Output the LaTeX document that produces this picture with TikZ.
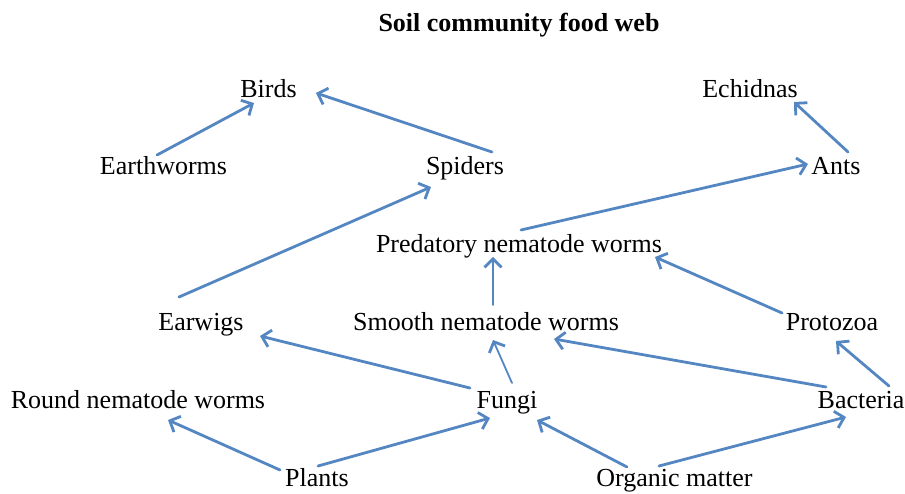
\documentclass[tikz,border=0pt]{standalone}
\usepackage{fontspec}
\setmainfont{Liberation Serif}
\usetikzlibrary{arrows.meta}
\definecolor{arrblue}{RGB}{84,134,194}
\begin{document}
\begin{tikzpicture}[x=0.5pt,y=-0.5pt,
  lbl/.style={anchor=base,inner sep=0pt,font=\fontsize{13}{15}\selectfont},
  ttl/.style={anchor=base,inner sep=0pt,font=\fontsize{13}{15}\selectfont\bfseries},
  arr/.style={draw=arrblue,line width=1.4pt,line cap=round,-{Straight Barb[length=4.2pt,width=8.6pt,line width=1.4pt]}},
  thinarr/.style={arr,line width=0.9pt}]
\useasboundingbox (0,0) rectangle (905,493);
\node[ttl] (title) at (519,31) {Soil community food web};
\node[lbl] (birds) at (268.5,97) {Birds};
\node[lbl] (echidnas) at (750,97) {Echidnas};
\node[lbl] (earthworms) at (163.5,174) {Earthworms};
\node[lbl] (spiders) at (465,174) {Spiders};
\node[lbl] (ants) at (836,174) {Ants};
\node[lbl] (predatory) at (519,252) {Predatory nematode worms};
\node[lbl] (earwigs) at (201,330) {Earwigs};
\node[lbl] (smooth) at (486,330) {Smooth nematode worms};
\node[lbl] (protozoa) at (832,330) {Protozoa};
\node[lbl] (round) at (138,408) {Round nematode worms};
\node[lbl] (fungi) at (507,408) {Fungi};
\node[lbl] (bacteria) at (861,408) {Bacteria};
\node[lbl] (plants) at (317,486) {Plants};
\node[lbl] (organic) at (674.5,486) {Organic matter};
% connectors
\draw[arr] ([shift={(-6.5,-19)}]earthworms.base) -- ([shift={(-14.5,6)}]birds.base);
\draw[arr] ([shift={(27,-22)}]spiders.base) -- ([shift={(47.5,-4)}]birds.base);
\draw[arr] ([shift={(12,-22)}]ants.base) -- ([shift={(44,5)}]echidnas.base);
\draw[arr] ([shift={(-22,-33)}]earwigs.base) -- ([shift={(-34,13)}]spiders.base);
\draw[arr] ([shift={(2,-22)}]predatory.base) -- ([shift={(-28,-10)}]ants.base);
\draw[thinarr] ([shift={(7,-25)}]smooth.base) -- ([shift={(-26,5)}]predatory.base);
\draw[arr] ([shift={(-50,-17)}]protozoa.base) -- ([shift={(136,5)}]predatory.base);
\draw[arr] ([shift={(-37,-20)}]fungi.base) -- ([shift={(59,6)}]earwigs.base);
\draw[thinarr] ([shift={(5,-25)}]fungi.base) -- ([shift={(7,10)}]smooth.base);
\draw[arr] ([shift={(-35,-21)}]bacteria.base) -- ([shift={(68,9)}]smooth.base);
\draw[arr] ([shift={(28,-22)}]bacteria.base) -- ([shift={(4,11)}]protozoa.base);
\draw[arr] ([shift={(-37,-16)}]plants.base) -- ([shift={(30,12)}]round.base);
\draw[arr] ([shift={(1,-20)}]plants.base) -- ([shift={(-17,10)}]fungi.base);
\draw[arr] ([shift={(-47.5,-19)}]organic.base) -- ([shift={(30,12)}]fungi.base);
\draw[arr] ([shift={(-15.5,-20)}]organic.base) -- ([shift={(-15,9)}]bacteria.base);
\end{tikzpicture}
\end{document}
